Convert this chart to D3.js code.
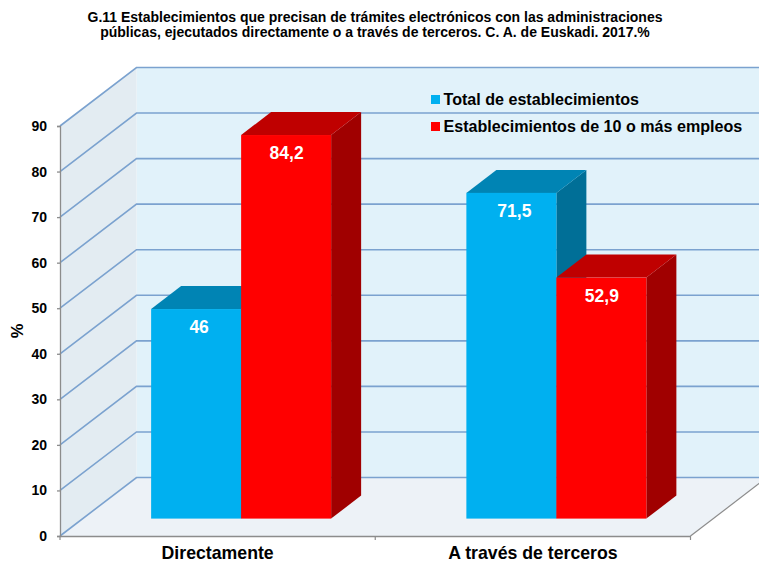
<!DOCTYPE html>
<html><head><meta charset="utf-8">
<script src="https://cdn.jsdelivr.net/npm/d3@7"></script>
<style>html,body{margin:0;padding:0;background:#fff}svg{display:block}text{font-family:"Liberation Sans",Arial,sans-serif;font-weight:bold}</style>
</head><body><div id="c"></div>
<script>
const categories = ["Directamente", "A través de terceros"];
const seriesNames = ["Total de establecimientos", "Establecimientos de 10 o más empleos"];
const totalValues = [46, 71.5];
const largeValues = [84.2, 52.9];
const valueLabels = [["46", "71,5"], ["84,2", "52,9"]];
const yTicks = [0, 10, 20, 30, 40, 50, 60, 70, 80, 90];
const titleLines = ["G.11 Establecimientos que precisan de trámites electrónicos con las administraciones",
  "públicas, ejecutados directamente o a través de terceros. C. A. de Euskadi. 2017.%"];
const yAxisLabel = "%";

const W = 759, H = 562;
const frontColors = ["#00b0f0", "#ff0000"], topColors = ["#0084b4", "#bf0000"], sideColors = ["#006f97", "#a00000"];
const wallDx = 76.5, wallDy = -58.5, barShiftX = 23.5, barShiftY = -17.4, barDx = 30, barDy = -23;
const labelShiftX = [3, 0.5];

const svg = d3.select("#c").append("svg").attr("width", W).attr("height", H);
const y = d3.scaleLinear().domain([0, 90]).range([536, 126]);
const x = d3.scaleBand().domain(categories).range([60, 690.5]);
const inner = d3.scaleBand().domain([0, 1]).range([0, 180]);
const poly = pts => pts.map(p => p.join(",")).join(" ");
const x0 = x.range()[0], x1 = x.range()[1];

// walls and floor
svg.append("polygon").attr("points", poly([[x0 + wallDx, y(90) + wallDy], [W, y(90) + wallDy], [W, y(0) + wallDy], [x0 + wallDx, y(0) + wallDy]])).attr("fill", "#e1f2fa");
svg.append("polygon").attr("points", poly([[x0, y(90)], [x0 + wallDx, y(90) + wallDy], [x0 + wallDx, y(0) + wallDy], [x0, y(0)]])).attr("fill", "#e3ecf2");
svg.append("polygon").attr("points", poly([[x0, y(0)], [x1, y(0)], [x1 + wallDx, y(0) + wallDy], [x0 + wallDx, y(0) + wallDy]])).attr("fill", "#edf2f7");

// gridlines
const grid = svg.append("g").attr("fill", "none").attr("stroke", "#7ba2cf").attr("stroke-width", 1.6);
grid.selectAll("polyline").data(yTicks).join("polyline")
  .attr("points", d => poly([[x0, y(d)], [x0 + wallDx, y(d) + wallDy], [W, y(d) + wallDy]]));

// axes
svg.append("line").attr("x1", x1).attr("y1", y(0)).attr("x2", x1 + wallDx).attr("y2", y(0) + wallDy).attr("stroke", "#8c8c8c").attr("stroke-width", 1.2);
const axisY = d3.axisLeft(y).tickValues(yTicks).tickSize(3).tickPadding(10).tickFormat(d3.format("d"));
const gy = svg.append("g").attr("transform", `translate(${x0},0)`).call(axisY);
gy.selectAll("path,line").attr("stroke", "#8c8c8c").attr("stroke-width", 1.3);
gy.selectAll("text").attr("font-size", 14).attr("fill", "#000").style("font-family", '"Liberation Sans"').style("font-weight", "bold");
const axisX = d3.axisBottom(x).tickSizeOuter(0).tickSize(0).tickPadding(10.5);
const gx = svg.append("g").attr("transform", `translate(0,${y(0)})`).call(axisX);
gx.select("path").attr("stroke", "#8c8c8c").attr("stroke-width", 1.3);
gx.selectAll("text").attr("font-size", 17.7).attr("fill", "#000").style("font-family", '"Liberation Sans"').style("font-weight", "bold");
const boundaryTicks = [x0, x0 + x.bandwidth(), x1];
svg.append("g").selectAll("line").data(boundaryTicks).join("line")
  .attr("x1", d => d).attr("x2", d => d).attr("y1", y(0)).attr("y2", y(0) + 4)
  .attr("stroke", "#8c8c8c").attr("stroke-width", 1.2);

// bars
const seriesValues = [totalValues, largeValues];
const bars = [];
categories.forEach((c, ci) => seriesValues.forEach((vals, si) => bars.push({c, si, v: vals[ci], label: valueLabels[si][ci]})));
const barGroup = svg.append("g");
const bx = d => x(d.c) + (x.bandwidth() - 180) / 2 + inner(d.si) + barShiftX;
const bw = inner.bandwidth();
const base = y(0) + barShiftY;
const bt = d => y(d.v) + barShiftY;
const g = barGroup.selectAll("g").data(bars).join("g");
g.append("polygon").attr("fill", d => sideColors[d.si]).attr("points", d => poly([[bx(d) + bw, bt(d)], [bx(d) + bw + barDx, bt(d) + barDy], [bx(d) + bw + barDx, base + barDy], [bx(d) + bw, base]]));
g.append("polygon").attr("fill", d => topColors[d.si]).attr("points", d => poly([[bx(d), bt(d)], [bx(d) + barDx, bt(d) + barDy], [bx(d) + bw + barDx, bt(d) + barDy], [bx(d) + bw, bt(d)]]));
g.append("rect").attr("fill", d => frontColors[d.si]).attr("x", bx).attr("y", bt).attr("width", bw).attr("height", d => base - bt(d));
g.append("text").attr("x", d => bx(d) + bw / 2 + labelShiftX[d.si]).attr("y", d => bt(d) + 24).attr("text-anchor", "middle").attr("font-size", 17.5).attr("fill", "#fff").text(d => d.label);

// legend
const lg = svg.append("g").selectAll("g").data(seriesNames).join("g").attr("transform", (d, i) => `translate(431,${95 + i * 27})`);
lg.append("rect").attr("width", 9).attr("height", 9).attr("fill", (d, i) => frontColors[i]);
lg.append("text").attr("x", 12.5).attr("y", 10).attr("font-size", 16.1).attr("fill", "#000").text(d => d);

// title
svg.append("g").selectAll("text").data(titleLines).join("text").attr("x", 375).attr("y", (d, i) => 21.5 + i * 15.5)
  .attr("text-anchor", "middle").attr("font-size", 14).attr("fill", "#000").text(d => d);

// y label
svg.append("text").attr("transform", "translate(23,331) rotate(-90)").attr("text-anchor", "middle").attr("font-size", 16.5).attr("fill", "#000").text(yAxisLabel);
</script></body></html>
